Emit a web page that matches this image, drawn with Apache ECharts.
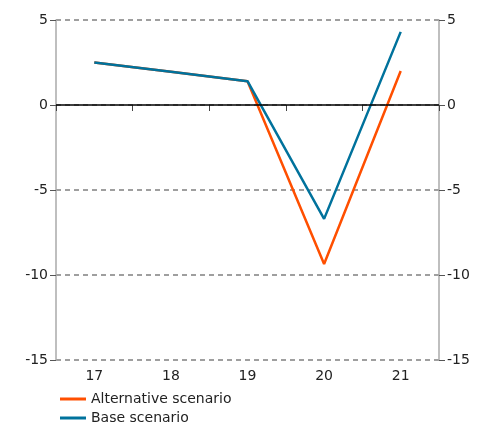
<!DOCTYPE html>
<html>
<head>
<meta charset="utf-8">
<script src="https://cdn.jsdelivr.net/npm/echarts@6/dist/echarts.min.js"></script>
<style>
  html, body { margin: 0; padding: 0; background: #fff; }
  #chart { width: 486px; height: 426px; }
</style>
</head>
<body>
<div id="chart"></div>
<script>
// years on the x axis
const years = ['17', '18', '19', '20', '21'];
// values
const alternative = [2.5, 1.95, 1.4, -9.35, 2.0];
const base = [2.5, 1.95, 1.4, -6.7, 4.3];

const orange = '#ff4f00';
const blue = '#00729c';
const font = 'DejaVu Sans';

let chart = echarts.init(document.getElementById('chart'));

// both y axes look the same, left and right
function yAxis(pos) {
  return {
    type: 'value',
    position: pos,
    min: -15,
    max: 5,
    interval: 5,
    axisLine: { show: true, lineStyle: { color: '#aaa', width: 1.5 } },
    axisTick: { show: true, length: 6, lineStyle: { color: '#555' } },
    axisLabel: { color: '#222', fontFamily: font, fontSize: 14, margin: 8 },
    splitLine: { show: pos === 'left', lineStyle: { color: '#808080', type: [5, 4], width: 1.5 } }
  };
}

chart.setOption({
  animation: false,
  grid: { left: 56, right: 47, top: 20, bottom: 66 },
  legend: {
    orient: 'vertical',
    left: 60,
    top: 392,
    padding: 0,
    itemWidth: 26,
    itemHeight: 3,
    itemGap: 5,
    icon: 'rect',
    textStyle: { color: '#222', fontFamily: font, fontSize: 14, lineHeight: 14 },
    data: ['Alternative scenario', 'Base scenario']
  },
  xAxis: {
    type: 'category',
    data: years,
    boundaryGap: true,
    axisLine: { show: false },
    axisTick: { show: true, length: 6, lineStyle: { color: '#444' } },
    axisLabel: { color: '#222', fontFamily: font, fontSize: 14, margin: 9 }
  },
  yAxis: [yAxis('left'), yAxis('right')],
  series: [
    {
      name: 'Alternative scenario',
      type: 'line',
      data: alternative,
      symbol: 'none',
      color: orange,
      lineStyle: { width: 2.5, color: orange },
      markLine: {
        silent: true,
        symbol: 'none',
        label: { show: false },
        lineStyle: { color: '#000', type: 'solid', width: 1.5 },
        data: [{ yAxis: 0 }]
      }
    },
    {
      name: 'Base scenario',
      type: 'line',
      data: base,
      symbol: 'none',
      color: blue,
      lineStyle: { width: 2.5, color: blue }
    }
  ]
});
</script>
</body>
</html>
